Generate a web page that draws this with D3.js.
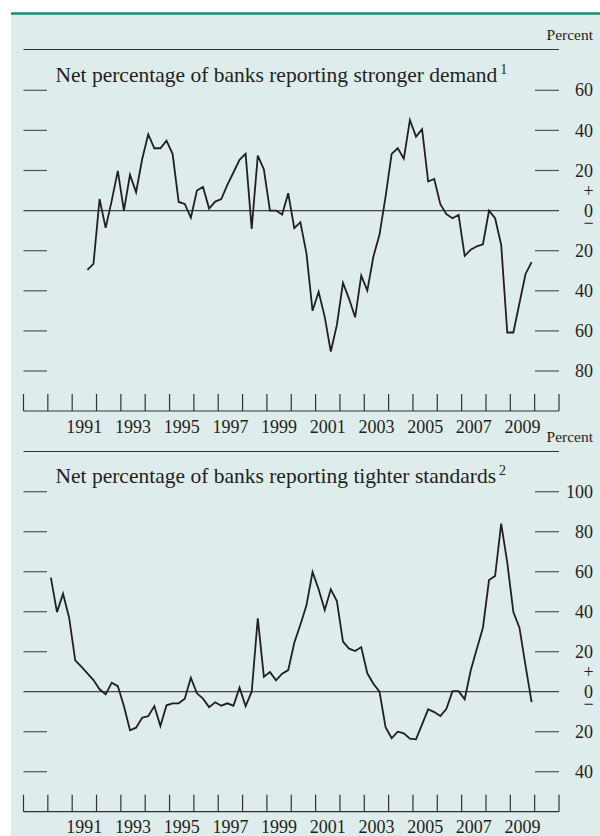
<!DOCTYPE html>
<html>
<head>
<meta charset="utf-8">
<script src="https://cdn.jsdelivr.net/npm/d3@7"></script>
<style>
  body { margin: 0; background: #fff; }
  svg { display: block; }
  text { font-family: "Liberation Serif", "Times New Roman", serif; fill: #231f20; }
</style>
</head>
<body>
<svg id="chart" width="600" height="836"></svg>
<script>

// quarterly survey dates, 1990Q1 - 2009Q4
const quarters = [
  "1990Q1","1990Q2","1990Q3","1990Q4", "1991Q1","1991Q2","1991Q3","1991Q4",
  "1992Q1","1992Q2","1992Q3","1992Q4", "1993Q1","1993Q2","1993Q3","1993Q4",
  "1994Q1","1994Q2","1994Q3","1994Q4", "1995Q1","1995Q2","1995Q3","1995Q4",
  "1996Q1","1996Q2","1996Q3","1996Q4", "1997Q1","1997Q2","1997Q3","1997Q4",
  "1998Q1","1998Q2","1998Q3","1998Q4", "1999Q1","1999Q2","1999Q3","1999Q4",
  "2000Q1","2000Q2","2000Q3","2000Q4", "2001Q1","2001Q2","2001Q3","2001Q4",
  "2002Q1","2002Q2","2002Q3","2002Q4", "2003Q1","2003Q2","2003Q3","2003Q4",
  "2004Q1","2004Q2","2004Q3","2004Q4", "2005Q1","2005Q2","2005Q3","2005Q4",
  "2006Q1","2006Q2","2006Q3","2006Q4", "2007Q1","2007Q2","2007Q3","2007Q4",
  "2008Q1","2008Q2","2008Q3","2008Q4", "2009Q1","2009Q2","2009Q3","2009Q4"
];

// net percentage reporting stronger demand (series starts 1991Q3)
const demand = [
  null, null, null, null,   null, null, -29.6, -26.6,
  5.8, -8.6, 5, 19.8,       0, 17.8, 9.2, 25.6,
  38.1, 31.1, 31.1, 34.9,   28.3, 4.3, 3.3, -3.5,
  10, 11.8, 1, 4.5,         5.7, 12.8, 19, 25.3,
  28.3, -9.1, 27.4, 20.6,   0, 0, -2, 8.7,
  -8.8, -5.8, -21.3, -50,   -40.5, -53, -70.3, -57,
  -36, -44, -53.2, -32.4,   -39.9, -22.9, -12.1, 7,
  28.3, 31.1, 25.9, 45.2,   36.9, 40.6, 14.5, 15.8,
  3.2, -1.8, -3.8, -2.1,    -22.6, -19.5, -17.8, -16.8,
  0, -3.8, -17.1, -60.8,    -60.8, -46.2, -31.6, -25.7
];

// net percentage reporting tighter standards
const standards = [
  57, 39.8, 49, 37,         15.7, 12.5, 9.2, 5.8,
  1.2, -1.3, 4.5, 2.8,      -7.2, -19.3, -18, -13,
  -12.2, -7.2, -17.2, -6.8, -5.8, -5.8, -3.5, 7,
  -0.8, -3.5, -7.7, -5.3,   -7, -5.8, -7, 2,
  -7.2, 0, 36.7, 7.5,       9.8, 5.7, 9, 10.8,
  24.5, 33.5, 43.2, 59.8,   51.2, 40.8, 51.2, 45.3,
  25, 21.5, 20.3, 22.3,     9.2, 4, 0, -17.7,
  -23.3, -20, -20.8, -23.5, -23.8, -16.3, -8.8, -10.2,
  -12.2, -8.5, 0.3, 0.3,    -3.8, 10.7, 21.5, 32,
  55.8, 57.8, 84, 64.5,     39.8, 32, 13, -5.2
];

const yearTicks = d3.range( 1989, 2012 );
const yearLabels = [ 1991, 1993, 1995, 1997, 1999, 2001, 2003, 2005, 2007, 2009 ];
const demandTicks = [ -80, -60, -40, -20, 0, 20, 40, 60 ];
const standardsTicks = [ -40, -20, 0, 20, 40, 60, 80, 100 ];

// "1995Q3" -> middle of the quarter as a decimal year
function quarterTime( q ) {
  return +q.slice( 0, 4 ) + ( +q.slice( 5 ) - 0.5 ) / 4;
}

const svg = d3.select( "#chart" );

const left = 23.5, right = 559, labelX = 593;

svg.append( "rect" )
  .attr( "x", 11 ).attr( "y", 13 )
  .attr( "width", 589 ).attr( "height", 823 )
  .attr( "fill", "#deecec" );

svg.append( "line" )
  .attr( "x1", 11 ).attr( "x2", 600 )
  .attr( "y1", 13.5 ).attr( "y2", 13.5 )
  .attr( "stroke", "#1d8a70" )
  .attr( "stroke-width", 2.4 );

const x = d3.scaleLinear().domain( [ 1989, 2011 ] ).range( [ left, right ] );

function drawPanel( p ) {

  const g = svg.append( "g" );
  const y = d3.scaleLinear().domain( p.domain ).range( p.range );

  g.append( "text" )
    .attr( "x", labelX ).attr( "y", p.percentY )
    .attr( "text-anchor", "end" )
    .style( "font-size", "15.5px" )
    .text( "Percent" );

  g.append( "line" )
    .attr( "x1", left ).attr( "x2", right )
    .attr( "y1", p.ruleY ).attr( "y2", p.ruleY )
    .attr( "stroke", "#333" ).attr( "stroke-width", 1.2 );

  const title = g.append( "text" )
    .attr( "x", 55.5 ).attr( "y", p.titleY )
    .style( "font-size", "21.5px" )
    .text( p.title );
  title.append( "tspan" )
    .attr( "dx", 3 ).attr( "dy", -8 )
    .style( "font-size", "14px" )
    .text( p.note );

  // zero line
  g.append( "line" )
    .attr( "x1", left ).attr( "x2", right )
    .attr( "y1", y( 0 ) ).attr( "y2", y( 0 ) )
    .attr( "stroke", "#444" ).attr( "stroke-width", 1.2 );

  // horizontal ticks on both sides
  const ticks = p.ticks.filter( d => d !== 0 );
  [ [ left, left + 23.5 ], [ right - 24, right ] ].forEach( ( [ a, b ] ) => {
    g.selectAll( null )
      .data( ticks )
      .enter().append( "line" )
        .attr( "x1", a ).attr( "x2", b )
        .attr( "y1", d => y( d ) ).attr( "y2", d => y( d ) )
        .attr( "stroke", "#555" ).attr( "stroke-width", 1.2 );
  } );

  g.selectAll( null )
    .data( ticks )
    .enter().append( "text" )
      .attr( "x", labelX )
      .attr( "y", d => y( d ) )
      .attr( "dy", "0.34em" )
      .attr( "text-anchor", "end" )
      .style( "font-size", "18px" )
      .text( d => Math.abs( d ) );

  // "+ 0 −" stacked at the zero line, kept in one text
  const zero = g.append( "text" )
    .attr( "text-anchor", "middle" )
    .style( "font-size", "18px" );
  zero.append( "tspan" )
    .attr( "x", labelX - 4.5 ).attr( "y", y( 0 ) - 14 )
    .text( "+" );
  zero.append( "tspan" )
    .attr( "x", labelX - 4.5 ).attr( "y", y( 0 ) + 6 )
    .text( "0" );
  zero.append( "tspan" )
    .attr( "x", labelX - 4.5 ).attr( "y", y( 0 ) + 18.5 )
    .text( "\u2212" );

  // time axis
  g.append( "line" )
    .attr( "x1", left ).attr( "x2", right )
    .attr( "y1", p.axisY ).attr( "y2", p.axisY )
    .attr( "stroke", "#333" ).attr( "stroke-width", 1.2 );

  g.selectAll( null )
    .data( yearTicks )
    .enter().append( "line" )
      .attr( "x1", d => x( d ) ).attr( "x2", d => x( d ) )
      .attr( "y1", p.axisY - 17 ).attr( "y2", p.axisY )
      .attr( "stroke", "#333" ).attr( "stroke-width", 1.2 );

  g.selectAll( null )
    .data( yearLabels )
    .enter().append( "text" )
      .attr( "x", d => x( d + 0.5 ) )
      .attr( "y", p.yearY )
      .attr( "text-anchor", "middle" )
      .style( "font-size", "18px" )
      .text( d => d );

  const line = d3.line()
    .defined( d => d.v !== null )
    .x( d => x( quarterTime( d.q ) ) )
    .y( d => y( d.v ) );

  g.append( "path" )
    .datum( quarters.map( ( q, i ) => ( { q: q, v: p.values[ i ] } ) ) )
    .attr( "d", line )
    .attr( "fill", "none" )
    .attr( "stroke", "#231f20" )
    .attr( "stroke-width", 1.8 )
    .attr( "stroke-linejoin", "miter" );
}

drawPanel( {
  title: "Net percentage of banks reporting stronger demand", note: "1",
  values: demand, ticks: demandTicks,
  domain: [ -80, 60 ], range: [ 371, 90.3 ],
  percentY: 40, ruleY: 49.5, titleY: 81.7, axisY: 411, yearY: 433
} );

drawPanel( {
  title: "Net percentage of banks reporting tighter standards", note: "2",
  values: standards, ticks: standardsTicks,
  domain: [ -40, 100 ], range: [ 771.7, 491.7 ],
  percentY: 441.5, ruleY: 451.5, titleY: 483.3, axisY: 811.7, yearY: 833
} );

</script>
</body>
</html>
